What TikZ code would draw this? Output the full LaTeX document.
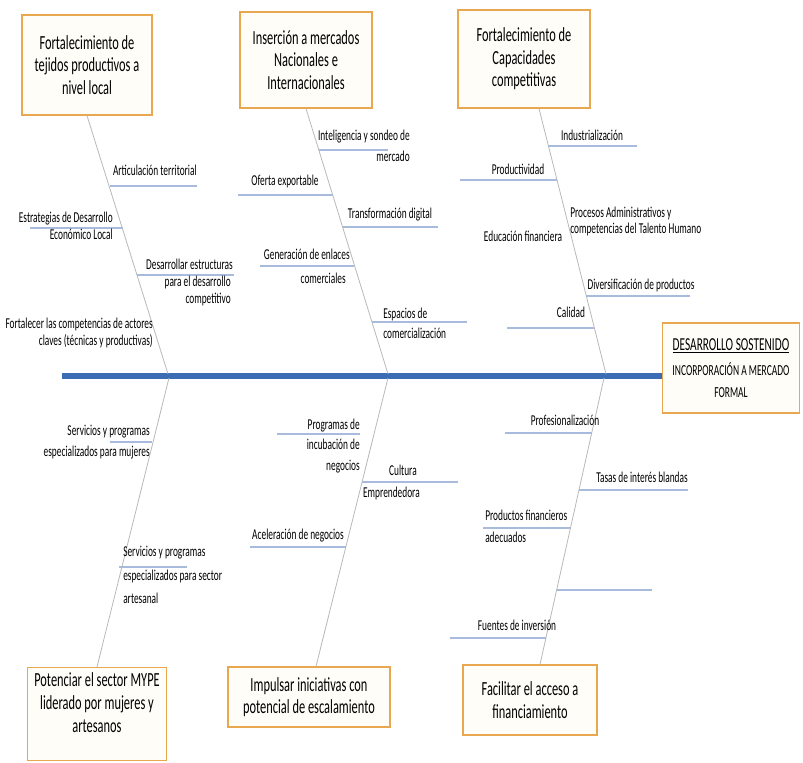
\documentclass[tikz,border=0pt]{standalone}
\usepackage{fontspec}
\setmainfont{Carlito}[FakeStretch=0.62]
\usepackage{tikz}
\usetikzlibrary{calc}

\newlength\pxu
\setlength\pxu{0.75pt}

\definecolor{boxorange}{HTML}{E9A850}
\definecolor{boxfill}{HTML}{FFFDF7}
\definecolor{spineblue}{HTML}{3C6DB4}
\definecolor{bonegray}{HTML}{B8B8B8}
\definecolor{twigblue}{HTML}{A9BBDD}

\tikzset{
	causebox/.style={draw=boxorange, fill=boxfill, line width=0.9pt, align=center,
		inner sep=0pt, font=\fontsize{15}{17}\selectfont},
	lbl/.style={inner sep=0pt, font=\fontsize{11.3}{12}\selectfont,
		text height=1.6ex, text depth=0.4ex},
	bone/.style={draw=bonegray, line width=0.6pt},
	twig/.style={draw=twigblue, line width=0.8pt},
	spine/.style={draw=spineblue, line width=4pt}
}

\begin{document}
\begin{tikzpicture}[x=0.75pt,y=-0.75pt]
	\useasboundingbox (0,0) rectangle (803,763);

	% the cause boxes
	\node[causebox, minimum width=130\pxu, minimum height=100\pxu] (tejidos) at (87,65)
		{Fortalecimiento de\\tejidos productivos a\\nivel local};
	\node[causebox, minimum width=132\pxu, minimum height=96\pxu] (mercados) at (306,60)
		{Inserción a mercados\\Nacionales e\\Internacionales};
	\node[causebox, minimum width=132\pxu, minimum height=98\pxu] (capacidades) at (524,59)
		{Fortalecimiento de\\Capacidades\\competitivas};
	\node[causebox, minimum width=139\pxu, minimum height=93\pxu] (mype) at (97,714)
		{Potenciar el sector MYPE\\liderado por mujeres y\\artesanos\\ \phantom{x}};
	\node[causebox, minimum width=162\pxu, minimum height=60\pxu] (iniciativas) at (309,697)
		{Impulsar iniciativas con\\potencial de escalamiento};
	\node[causebox, minimum width=134\pxu, minimum height=70\pxu] (financiamiento) at (530,700)
		{Facilitar el acceso a\\financiamiento};

	% the effect box
	\node[causebox, minimum width=137\pxu, minimum height=90\pxu,
		font=\fontsize{11.5}{16}\selectfont] (desarrollo) at (731,368)
		{{\fontsize{13.7}{14}\selectfont\underline{DESARROLLO SOSTENIDO}}\\[3pt]
		INCORPORACIÓN A MERCADO\\FORMAL};

	% the spine
	\coordinate (cola) at (62,376);
	\draw[spine] (cola) -- (cola -| desarrollo.west);

	% the bones, where they meet the spine
	\coordinate (s1) at (168,374);
	\coordinate (s2) at (388,374);
	\coordinate (s3) at (606,374);
	\coordinate (s4) at (169,378);
	\coordinate (s5) at (388,378);
	\coordinate (s6) at (604,378);
	\draw[bone] (tejidos.south) -- (s1);
	\draw[bone] (mercados.south) -- (s2);
	\draw[bone] ($(capacidades.south)+(15,0)$) -- (s3);
	\draw[bone] (s4) -- (mype.north);
	\draw[bone] (s5) -- ($(iniciativas.north)+(7,0)$);
	\draw[bone] (s6) -- ($(financiamiento.north)+(10,0)$);

	% the small blue lines of each cause
	\foreach \xa/\xb/\y in {
		% upper left
		110/197/186, 30/123/228, 137/234/275,
		% upper middle
		319/388/150, 238/333/195, 343/438/227, 260/354/266, 372/467/322,
		% upper right
		548/637/146, 460/557/180, 586/690/296, 507/594/328,
		% lower left
		110/152/442, 119/187/567,
		% lower middle
		277/360/434, 362/458/482, 250/346/547,
		% lower right
		505/592/433, 579/688/490, 483/570/528, 557/652/590, 450/546/638}
		\draw[twig] (\xa,\y) -- (\xb,\y);

	% the texts of each cause
	\foreach \nm/\x/\y/\anc/\txt in {
		% upper left
		ter/197/172/east/Articulación territorial,
		est/113/219/east/Estrategias de Desarrollo,
		estb/113/236/east/Económico Local,
		des/233/266/east/Desarrollar estructuras,
		desb/231/283/east/para el desarrollo,
		desc/231/300/east/competitivo,
		act/153/325/east/Fortalecer las competencias de actores,
		actb/153/342/east/claves (técnicas y productivas),
		% upper middle
		intl/410/137/east/Inteligencia y sondeo de,
		intlb/410/158/east/mercado,
		ofe/285/182/center/Oferta exportable,
		tra/390/215/center/Transformación digital,
		gen/350/256/east/Generación de enlaces,
		genb/346/280/east/comerciales,
		esp/383/315/west/Espacios de,
		espb/383/335/west/comercialización,
		% upper right
		ind/592/137/center/Industrialización,
		pro/518/171/center/Productividad,
		adm/570/214/west/Procesos Administrativos y,
		admb/570/230/west/competencias del Talento Humano,
		edu/523/238/center/Educación financiera,
		div/641/286/center/Diversificación de productos,
		cal/571/314/center/Calidad,
		% lower left
		muj/150/432/east/Servicios y programas,
		mujb/150/453/east/especializados para mujeres,
		arte/123/553/west/Servicios y programas,
		arteb/123/577/west/especializados para sector,
		artec/123/600/west/artesanal,
		% lower middle
		inc/360/426/east/Programas de,
		incb/360/446/east/incubación de,
		incc/360/467/east/negocios,
		cul/417/472/east/Cultura,
		culb/420/494/east/Emprendedora,
		ace/298/536/center/Aceleración de negocios,
		% lower right
		prof/565/422/center/Profesionalización,
		tas/642/479/center/Tasas de interés blandas,
		prod/485/517/west/Productos financieros,
		prodb/485/539/west/adecuados,
		fue/517/627/center/Fuentes de inversión}
		\node[lbl, anchor=\anc] (\nm) at (\x,\y) {\txt};
\end{tikzpicture}
\end{document}
